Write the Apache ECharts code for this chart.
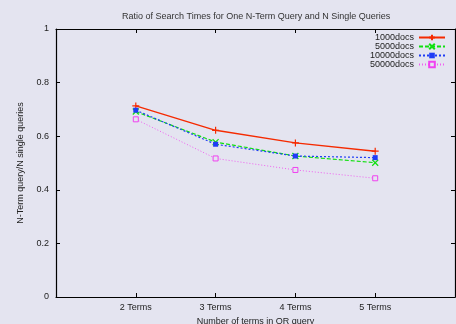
<!DOCTYPE html>
<html><head><meta charset="utf-8">
<script src="https://cdn.jsdelivr.net/npm/echarts@6/dist/echarts.min.js"></script>
<style>html,body{margin:0;padding:0;background:#e4e4f0}#c{width:456px;height:324px}</style>
</head><body><div id="c"></div>
<script>
const categories = ['2 Terms','3 Terms','4 Terms','5 Terms'];
const termCounts = [2,3,4,5];
const docs1000 = [0.713,0.622,0.575,0.544];
const docs5000 = [0.692,0.578,0.526,0.501];
const docs10000 = [0.697,0.570,0.526,0.520];
const docs50000 = [0.663,0.517,0.474,0.443];
const yTicks = [0,0.2,0.4,0.6,0.8,1];
const seriesNames = ['1000docs','5000docs','10000docs','50000docs'];

const bg = '#e4e4f0';
const font = 'Liberation Sans, Arial, sans-serif';
const pair = arr => termCounts.map((t,i)=>[t,arr[i]]);
const labelFor = v => { const i = termCounts.indexOf(v); return i>=0 ? categories[i] : ''; };

const chart = echarts.init(document.getElementById('c'));
const axisCommon = {
  axisLine:{show:true,onZero:false,lineStyle:{color:'#000',width:1.2}},
  axisTick:{show:true,inside:true,length:4,lineStyle:{color:'#000',width:1}},
  splitLine:{show:false}
};
chart.setOption({
  backgroundColor: bg,
  animation:false,
  title:{text:'Ratio of Search Times for One N-Term Query and N Single Queries',
    left:117, top:7,
    textStyle:{fontSize:9,fontWeight:'normal',color:'#333',fontFamily:font}},
  grid:{left:56,right:1,top:29,bottom:27,outerBoundsMode:'none',containLabel:false},
  legend:{
    orient:'vertical', right:5, top:28, align:'right',
    itemWidth:26, itemHeight:7, itemGap:0,
    data:seriesNames,
    textStyle:{fontSize:9,color:'#222',fontFamily:font,width:60,align:'right'}
  },
  xAxis:[
    Object.assign({type:'value',position:'bottom',min:1,max:6,interval:1,
      name:'Number of terms in OR query',nameLocation:'middle',nameGap:14,
      nameTextStyle:{fontSize:9,color:'#222',fontFamily:font},
      axisLabel:{formatter:labelFor,fontSize:9,color:'#222',fontFamily:font,margin:6}},axisCommon),
    Object.assign({type:'value',position:'top',min:1,max:6,interval:1,
      axisLabel:{show:false}},axisCommon)
  ],
  yAxis:[
    Object.assign({type:'value',position:'left',min:0,max:1,interval:0.2,
      name:'N-Term query/N single queries',nameLocation:'middle',nameGap:31,
      nameTextStyle:{fontSize:9,color:'#222',fontFamily:font},
      axisLabel:{fontSize:9,color:'#222',fontFamily:font,margin:7}},axisCommon),
    Object.assign({type:'value',position:'right',min:0,max:1,interval:0.2,
      axisLabel:{show:false}},axisCommon)
  ],
  series:[
    {name:seriesNames[0],type:'line',data:pair(docs1000),
      symbol:'path://M0,5L10,5M5,0L5,10',symbolSize:7,
      lineStyle:{color:'#f52a00',width:1.4,type:'solid'},
      itemStyle:{color:'#f52a00',borderColor:'#f52a00',borderWidth:1.2}},
    {name:seriesNames[1],type:'line',data:pair(docs5000),
      symbol:'path://M0,0L10,10M10,0L0,10',symbolSize:6,
      lineStyle:{color:'#10e010',width:1.2,type:[4,2]},
      itemStyle:{color:'#10e010',borderColor:'#10e010',borderWidth:1.2}},
    {name:seriesNames[2],type:'line',data:pair(docs10000),
      symbol:'rect',symbolSize:5,
      lineStyle:{color:'#1f3cf5',width:1.2,type:[2,2]},
      itemStyle:{color:'#1f3cf5',borderColor:'#1f3cf5',borderWidth:0}},
    {name:seriesNames[3],type:'line',data:pair(docs50000),
      symbol:'rect',symbolSize:5,
      lineStyle:{color:'#f060f0',width:1,type:[1,2]},
      itemStyle:{color:bg,borderColor:'#f040f0',borderWidth:1}}
  ]
});
</script></body></html>
